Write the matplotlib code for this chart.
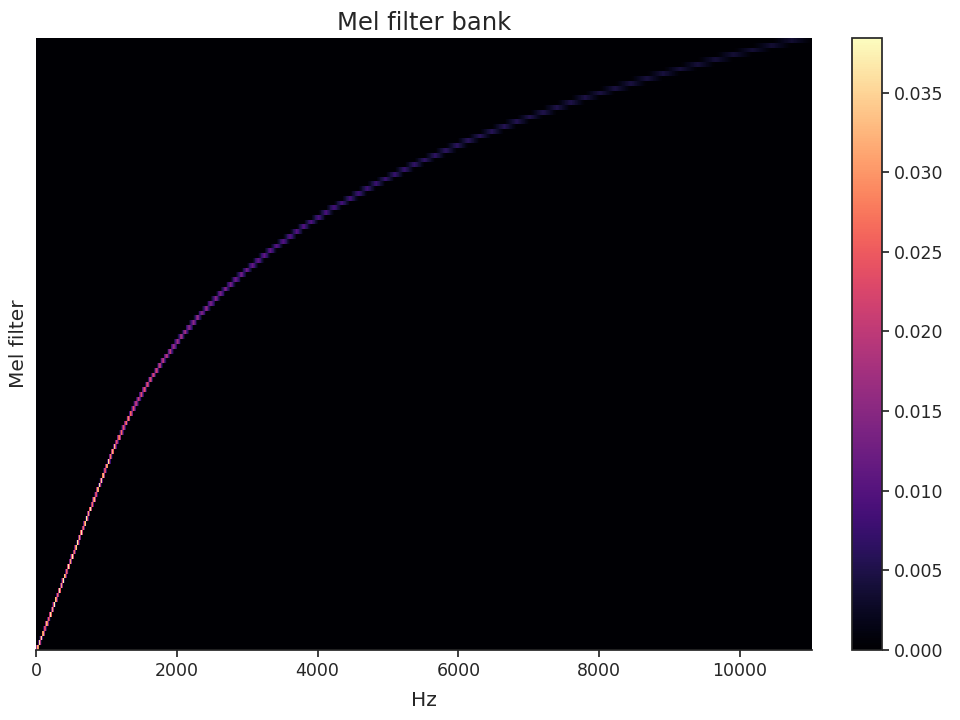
import matplotlib
matplotlib.use("Agg")
import matplotlib.pyplot as plt
import numpy as np
import seaborn as sns

# filter bank parameters (22.05 kHz, 128 bands, peak ~0.0388)
sr = 22050
n_fft = 2048
n_mels = 128
x_ticks = [0, 2000, 4000, 6000, 8000, 10000]
cbar_ticks = [0.000, 0.005, 0.010, 0.015, 0.020, 0.025, 0.030, 0.035]


def hz_to_mel(f):
    f = np.asarray(f, dtype=float)
    f_sp = 200.0 / 3
    logstep = np.log(6.4) / 27.0
    mel = f / f_sp
    hi = f >= 1000.0
    mel[hi] = 15.0 + np.log(f[hi] / 1000.0) / logstep
    return mel


def mel_to_hz(m):
    m = np.asarray(m, dtype=float)
    f_sp = 200.0 / 3
    logstep = np.log(6.4) / 27.0
    f = f_sp * m
    hi = m >= 15.0
    f[hi] = 1000.0 * np.exp(logstep * (m[hi] - 15.0))
    return f


fftfreqs = np.linspace(0, sr / 2, 1 + n_fft // 2)
mel_pts = np.linspace(hz_to_mel([0.0])[0], hz_to_mel([sr / 2])[0], n_mels + 2)
mel_f = mel_to_hz(mel_pts)
fdiff = np.diff(mel_f)
ramps = mel_f[:, None] - fftfreqs[None, :]
weights = np.zeros((n_mels, len(fftfreqs)))
for i in range(n_mels):
    lower = -ramps[i] / fdiff[i]
    upper = ramps[i + 2] / fdiff[i + 1]
    weights[i] = np.maximum(0, np.minimum(lower, upper))
weights *= (2.0 / (mel_f[2:n_mels + 2] - mel_f[:n_mels]))[:, None]

sns.set_style("ticks")
plt.rcParams.update({
    "font.family": ["DejaVu Sans"],
    "font.size": 13,
    "xtick.labelsize": 12.5,
    "ytick.labelsize": 12.5,
    "axes.labelsize": 14.5,
    "xtick.major.size": 5,
    "ytick.major.size": 5,
    "xtick.major.width": 1.25,
    "ytick.major.width": 1.25,
    "axes.linewidth": 1.25,
})
fig = plt.figure(figsize=(9.6, 7.2), dpi=100)
ax = fig.add_axes([0.0375, 0.0972, 0.8085, 0.85])
cax = fig.add_axes([0.8875, 0.0972, 0.0315, 0.85])

binw = sr / n_fft
x_edges = np.clip(np.concatenate([fftfreqs - binw / 2, [fftfreqs[-1] + binw / 2]]), 0, sr / 2)
y_edges = np.arange(n_mels + 1)
mesh = ax.pcolormesh(x_edges, y_edges, weights, cmap="magma", shading="flat", rasterized=True)
ax.set_xlim(0, sr / 2)
ax.set_ylim(0, n_mels)
ax.set_xticks(x_ticks)
ax.set_yticks([])
ax.set_xlabel("Hz", labelpad=8)
ax.set_ylabel("Mel filter", labelpad=6)
ax.set_title("Mel filter bank", fontsize=17.5)
for s in ["top", "right", "left"]:
    ax.spines[s].set_visible(False)

cb = fig.colorbar(mesh, cax=cax)
cb.set_ticks(cbar_ticks)
cb.ax.yaxis.set_major_formatter(matplotlib.ticker.FormatStrFormatter("%.3f"))
cb.outline.set_linewidth(1.25)

fig.savefig("out.png", dpi=100)
